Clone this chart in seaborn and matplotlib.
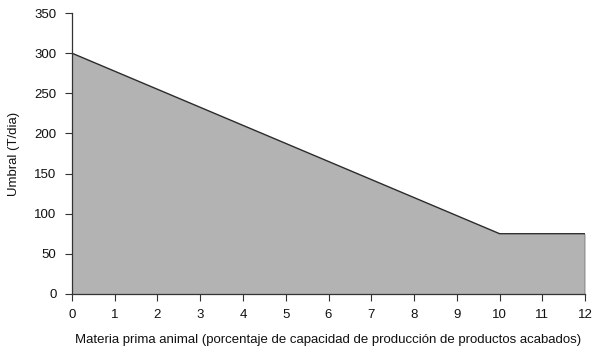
import matplotlib
matplotlib.use("Agg")
import matplotlib.pyplot as plt
import seaborn as sns
import pandas as pd

x_vals = [0, 1, 2, 3, 4, 5, 6, 7, 8, 9, 10, 11, 12]
umbral = [300, 277.5, 255, 232.5, 210, 187.5, 165, 142.5, 120, 97.5, 75, 75, 75]
x_ticks = list(range(0, 13))
y_ticks = [0, 50, 100, 150, 200, 250, 300, 350]

sns.set_theme(style="ticks")
plt.rcParams['font.family'] = ['Liberation Sans', 'DejaVu Sans']

df = pd.DataFrame({"x": x_vals, "y": umbral})

fig = plt.figure(figsize=(5.99, 3.52), dpi=100)
ax = fig.add_axes([0.120, 0.165, 0.857, 0.798])

ax.fill_between(df["x"], 0, df["y"], color="#b3b3b3", linewidth=0, zorder=1)
sns.lineplot(data=df, x="x", y="y", ax=ax, color="#2a2a2a", linewidth=1.0, zorder=2)
ax.vlines(x_vals[-1], 0, umbral[-1], color="#2a2a2a", linewidth=1.0, zorder=2)

ax.set_xlim(0, 12)
ax.set_ylim(0, 350)
ax.set_xticks(x_ticks)
ax.set_yticks(y_ticks)
ax.tick_params(axis="both", labelsize=9.5, length=5, width=0.8, color="#333333", labelcolor="#111111")
ax.tick_params(axis="x", pad=6)
ax.tick_params(axis="y", pad=6)
for s in ["top", "right"]:
    ax.spines[s].set_visible(False)
for s in ["left", "bottom"]:
    ax.spines[s].set_linewidth(0.9)
    ax.spines[s].set_color("#333333")

ax.set_xlabel("Materia prima animal (porcentaje de capacidad de producción de productos acabados)", fontsize=9.5, labelpad=9, color="#111111")
ax.set_ylabel("Umbral (T/dia)", fontsize=9.5, labelpad=10, color="#111111")

fig.savefig("out.png", dpi=100)
